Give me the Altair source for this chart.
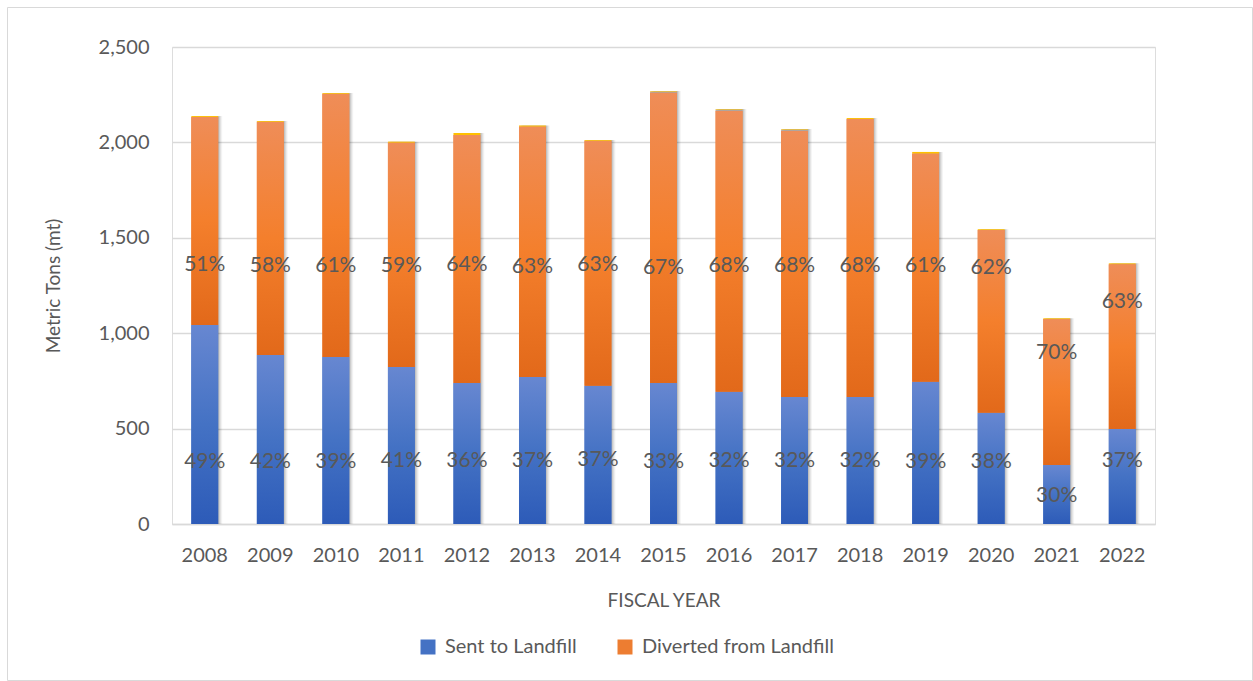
import altair as alt
import pandas as pd

years = ["2008", "2009", "2010", "2011", "2012", "2013", "2014", "2015",
         "2016", "2017", "2018", "2019", "2020", "2021", "2022"]
sent = [1043, 886, 875, 823, 739, 770, 725, 739, 693, 665, 665, 746, 583, 309, 498]
diverted = [1090, 1222, 1380, 1176, 1300, 1313, 1283, 1522, 1473, 1396, 1458, 1196, 958, 765, 864]
other_gray = [0, 0, 0, 0, 0, 0, 0, 5, 6, 6, 0, 0, 0, 0, 0]
other_yellow = [5, 4, 4, 5, 10, 5, 5, 3, 3, 3, 5, 8, 4, 4, 4]
sent_pct = ["49%", "42%", "39%", "41%", "36%", "37%", "37%", "33%", "32%", "32%", "32%", "39%", "38%", "30%", "37%"]
div_pct = ["51%", "58%", "61%", "59%", "64%", "63%", "63%", "67%", "68%", "68%", "68%", "61%", "62%", "70%", "63%"]
sent_label_at = [325, 325, 325, 328, 328, 328, 335, 325, 330, 330, 328, 325, 325, 147, 328]
div_label_at = [1357, 1352, 1352, 1352, 1357, 1347, 1357, 1342, 1352, 1352, 1352, 1352, 1342, 896, 1163]

df = pd.DataFrame({
    "year": years, "sent": sent, "div": diverted, "gray": other_gray, "yel": other_yellow,
    "sp": sent_pct, "dp": div_pct, "sy": sent_label_at, "dy": div_label_at,
    "Sent to Landfill": sent, "Diverted from Landfill": diverted,
})

TXT = "#595959"
FONT = "Lato"

blue_grad = {"gradient": "linear", "x1": 0, "y1": 0, "x2": 0, "y2": 1,
             "stops": [{"offset": 0, "color": "#6787d1"},
                       {"offset": 0.5, "color": "#4472c4"},
                       {"offset": 1, "color": "#2d5bb8"}]}
orange_grad = {"gradient": "linear", "x1": 0, "y1": 0, "x2": 0, "y2": 1,
               "stops": [{"offset": 0, "color": "#ef8d58"},
                         {"offset": 0.5, "color": "#f47f2c"},
                         {"offset": 1, "color": "#e2691a"}]}

xenc = alt.X("year:N", title="FISCAL YEAR", sort=years,
             scale=alt.Scale(paddingInner=0.59, paddingOuter=0.295),
             axis=alt.Axis(labelAngle=0, labelFontSize=20, labelColor=TXT, labelFont=FONT,
                           labelPadding=21, ticks=False, domainColor="#d9d9d9", domainWidth=1.5,
                           titleFontSize=19, titleFont=FONT, titleColor=TXT, titleFontWeight="normal",
                           titlePadding=26, grid=False))
yscale = alt.Scale(domain=[0, 2500], nice=False)
yaxis = alt.Axis(values=[0, 500, 1000, 1500, 2000, 2500], format=",.0f", labelFontSize=20,
                 labelColor=TXT, labelFont=FONT, labelPadding=23, ticks=False, domain=False,
                 gridColor="#d9d9d9", gridWidth=1.3, title="Metric Tons (mt)", titleFontSize=19,
                 titleFont=FONT, titleColor=TXT, titleFontWeight="normal", titlePadding=35)

base = alt.Chart(df).transform_calculate(
    t1="datum.sent + datum.div",
    t2="datum.sent + datum.div + datum.gray",
    t3="datum.sent + datum.div + datum.gray + datum.yel",
)

legend_layer = alt.Chart(df).transform_fold(
    ["Sent to Landfill", "Diverted from Landfill"], as_=["series", "value"]
).transform_calculate(
    lo="datum.series == 'Sent to Landfill' ? 0 : datum.sent",
    hi="datum.series == 'Sent to Landfill' ? datum.sent : datum.sent + datum.div",
).mark_bar().encode(
    x=xenc,
    y=alt.Y("hi:Q", scale=yscale, axis=yaxis),
    y2="lo:Q",
    color=alt.Color("series:N",
                    scale=alt.Scale(domain=["Sent to Landfill", "Diverted from Landfill"],
                                    range=["#4472c4", "#ed7d31"]),
                    legend=alt.Legend(title=None, orient="none", direction="horizontal",
                                      legendX=246, legendY=590, symbolType="square",
                                      symbolSize=225, symbolStrokeWidth=0, labelFontSize=20,
                                      labelColor=TXT, labelFont=FONT, columnPadding=38,
                                      labelOffset=7, labelLimit=400)),
)

shadows = [
    base.mark_bar(color="#000000", opacity=op, xOffset=dx).encode(
        x=xenc, y=alt.Y("t3:Q", scale=yscale), y2=alt.datum(0))
    for dx, op in [(1, 0.10), (2, 0.08), (3, 0.06), (4, 0.04)]
]

blue = base.mark_bar(fill=blue_grad).encode(x=xenc, y=alt.Y("sent:Q", scale=yscale), y2=alt.datum(0))
orange = base.mark_bar(fill=orange_grad).encode(x=xenc, y=alt.Y("t1:Q", scale=yscale), y2="sent:Q")
gray = base.mark_bar(fill="#a5a5a5").encode(x=xenc, y=alt.Y("t2:Q", scale=yscale), y2="t1:Q")
yellow = base.mark_bar(fill="#ffc000").encode(x=xenc, y=alt.Y("t3:Q", scale=yscale), y2="t2:Q")

lab_s = base.mark_text(fontSize=21, color=TXT, font=FONT).encode(
    x=xenc, y=alt.Y("sy:Q", scale=yscale), text="sp:N")
lab_d = base.mark_text(fontSize=21, color=TXT, font=FONT).encode(
    x=xenc, y=alt.Y("dy:Q", scale=yscale), text="dp:N")

border = alt.Chart(pd.DataFrame({"k": [0]})).mark_rect(
    fill=None, stroke="#d9d9d9", strokeWidth=1
).encode(x=alt.value(-164.5), x2=alt.value(1080.5), y=alt.value(-39.5), y2=alt.value(633.5))

chart = alt.layer(border, *shadows, legend_layer, blue, orange, gray, yellow, lab_s, lab_d).properties(
    width=983, height=477,
    autosize=alt.AutoSizeParams(type="none"),
    padding={"left": 172, "top": 47, "right": 98, "bottom": 157},
).configure_view(stroke=None).configure(background="white")

chart.save("out.html", embed_options={"renderer": "svg", "actions": False})
